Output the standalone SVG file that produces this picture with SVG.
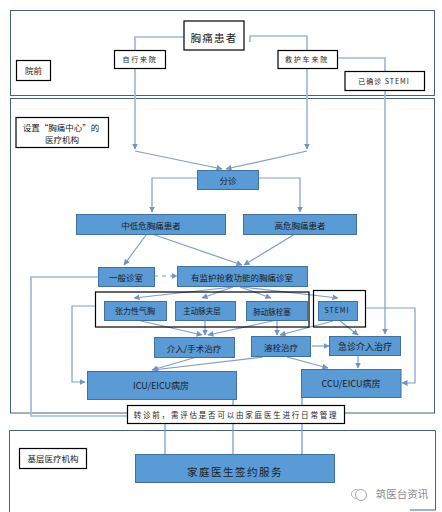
<svg xmlns="http://www.w3.org/2000/svg" width="442" height="512" viewBox="0 0 442 512">
<style>
text{font-family:"Noto Sans CJK SC","Liberation Sans",sans-serif;fill:#1a1a1a;text-anchor:middle;dominant-baseline:central}
.frame{fill:none;stroke:#44627f;stroke-width:1}
.w{fill:#fff;stroke:#000;stroke-width:1.200}
.b{fill:#5b9bd5;stroke:#41719c;stroke-width:1}
.g{fill:none;stroke:#000;stroke-width:1.200}
.c{fill:none;stroke:#7d9ecb;stroke-width:1.200}
.a{marker-end:url(#m)}
.t{stroke-width:1.700;stroke:#9dbbdc}
.n{stroke:#6f97c4}
</style>
<defs><marker id="m" markerWidth="7" markerHeight="7" refX="5.500" refY="3" orient="auto" markerUnits="userSpaceOnUse"><path d="M0 0L6 3L0 6Z" fill="#6f93c6"/></marker></defs>
<g id="frames">
<rect class="frame" x="10.500" y="10.500" width="424" height="85"/>
<rect class="frame" x="10.500" y="98.500" width="424" height="314.500"/>
<path class="frame" d="M9.500 512V430.500H435.500V510H410"/>
</g>
<g id="connectors">
<path class="c t" d="M184 37H135V50"/>
<path class="c t" d="M250 42V36H307V50"/>
<path class="c t a" d="M135 68V149"/>
<path class="c t a" d="M307 68V149"/>
<path class="c a" d="M135 151L222 169"/>
<path class="c a" d="M307 151L226 169"/>
<path class="c t a" d="M338 58H385V334"/>
<path class="c a" d="M197 178H152V212"/>
<path class="c a" d="M258 178H300V212"/>
<path class="c a" d="M146 235L124 265"/>
<path class="c a" d="M152 234L242 265"/>
<path class="c a" d="M295 234L244 265"/>
<path class="c t" d="M98 277H31V416H127"/>
<path class="c a" stroke-dasharray="4 4" d="M154 276H177"/>
<path class="c a" d="M233 287L134 298"/>
<path class="c a" d="M233 287L202 298"/>
<path class="c a" d="M240 287L271 298"/>
<path class="c a" d="M242 287L338 298"/>
<path class="c a" d="M137 320L202 335"/>
<path class="c a" d="M205 320V335"/>
<path class="c a" d="M277 320L208 335"/>
<path class="c a" d="M277 320V335"/>
<path class="c a" d="M333 321L280 335"/>
<path class="c a" d="M340 321L358 335"/>
<path class="c a" d="M95 306H72V382H85"/>
<path class="c a" d="M365 308H415V383H402"/>
<path class="c a" d="M197 357L152 370"/>
<path class="c a" d="M263 357L153 370"/>
<path class="c a" d="M287 357L328 368"/>
<path class="c a" d="M312 346H329"/>
<path class="c a" d="M358 356V368"/>
<path class="c n" d="M165 423V454"/>
<path class="c n" d="M233 399V454"/>
<path class="c n" d="M302 397V454"/>
</g>
<rect class="g" x="95.500" y="292" width="213.500" height="35"/>
<rect class="g" x="313.500" y="290.500" width="52" height="36.500"/>
<g id="n1"><rect class="w" x="184" y="21" width="60" height="29"/><text x="214" y="37" font-size="10.500" letter-spacing="1.300">胸痛患者</text></g>
<g id="n2"><rect class="w" x="114.500" y="50.500" width="51" height="18"/><text x="140" y="59" font-size="7" letter-spacing="1.800">自行来院</text></g>
<g id="n3"><rect class="w" x="278" y="50.500" width="59.500" height="18"/><text x="307" y="59" font-size="7" letter-spacing="1.800">救护车来院</text></g>
<g id="n4"><rect class="w" x="345" y="71.500" width="79.500" height="19"/><text x="384" y="81" font-size="7" letter-spacing="1">已确诊 STEMI</text></g>
<g id="n5"><rect class="w" x="16.500" y="60.500" width="34" height="20"/><text x="33.500" y="70" font-size="8.500">院前</text></g>
<g id="n6"><rect class="w" x="16" y="117.500" width="92.500" height="30"/><text x="61" y="127" font-size="8.500">设置“胸痛中心”的</text><text x="62" y="138.500" font-size="8.500">医疗机构</text></g>
<g id="n7"><rect class="b" x="197.500" y="170.500" width="61" height="19"/><text x="228" y="180" font-size="8.500">分诊</text></g>
<g id="n8"><rect class="b" x="76.500" y="214.500" width="149" height="20"/><text x="151" y="224.500" font-size="8.500">中低危胸痛患者</text></g>
<g id="n9"><rect class="b" x="243.500" y="214.500" width="113" height="20"/><text x="300" y="224.500" font-size="8.500">高危胸痛患者</text></g>
<g id="n10"><rect class="b" x="98.500" y="267.500" width="56" height="19"/><text x="126" y="277" font-size="8.500">一般诊室</text></g>
<g id="n11"><rect class="b" x="177.500" y="266.500" width="130" height="20"/><text x="242" y="276.500" font-size="8.500">有监护抢救功能的胸痛诊室</text></g>
<g id="n12"><rect class="b" x="104.500" y="301.500" width="62" height="19"/><text x="135" y="310" font-size="8">张力性气胸</text></g>
<g id="n13"><rect class="b" x="175.500" y="301.500" width="60" height="19"/><text x="202" y="310" font-size="7.500">主动脉夹层</text></g>
<g id="n14"><rect class="b" x="246.500" y="301.500" width="61" height="19"/><text x="272" y="311" font-size="7.500">肺动脉栓塞</text></g>
<g id="n15"><rect class="b" x="318.500" y="301.500" width="39" height="19"/><text x="337" y="310" font-size="7" letter-spacing="1">STEMI</text></g>
<g id="n16"><rect class="b" x="154.500" y="337.500" width="80" height="20"/><text x="194" y="347.500" font-size="8.500">介入/手术治疗</text></g>
<g id="n17"><rect class="b" x="251.500" y="336.500" width="59" height="20"/><text x="281" y="346.500" font-size="8.500">溶栓治疗</text></g>
<g id="n18"><rect class="b" x="329.500" y="336.500" width="71" height="19"/><text x="365" y="346" font-size="9">急诊介入治疗</text></g>
<g id="n19"><rect class="b" x="87.500" y="371.500" width="149" height="28"/><text x="161" y="385.500" font-size="9">ICU/EICU病房</text></g>
<g id="n20"><rect class="b" x="301.500" y="369.500" width="99.500" height="28"/><text x="351" y="383" font-size="9">CCU/EICU病房</text></g>
<g id="n21"><rect class="w" x="127.500" y="405.500" width="217" height="18"/><text x="236" y="414.500" font-size="7.500" letter-spacing="1.800">转诊前，需评估是否可以由家庭医生进行日常管理</text></g>
<g id="n22"><rect class="w" x="19.500" y="448.500" width="67" height="20"/><text x="53" y="458" font-size="8.500">基层医疗机构</text></g>
<g id="n23"><rect class="b" x="135.500" y="454.500" width="199" height="28"/><text x="235" y="471" font-size="10.500" letter-spacing="1.500">家庭医生签约服务</text></g>
<g id="watermark"><circle cx="356" cy="494" r="4.500" fill="none" stroke="#b5b5b5"/><circle cx="361" cy="495" r="5.500" fill="#fff" stroke="#a5a5a5"/><text x="402" y="493" font-size="10.500" style="fill:#8a8a8a">筑医台资讯</text></g>
</svg>
